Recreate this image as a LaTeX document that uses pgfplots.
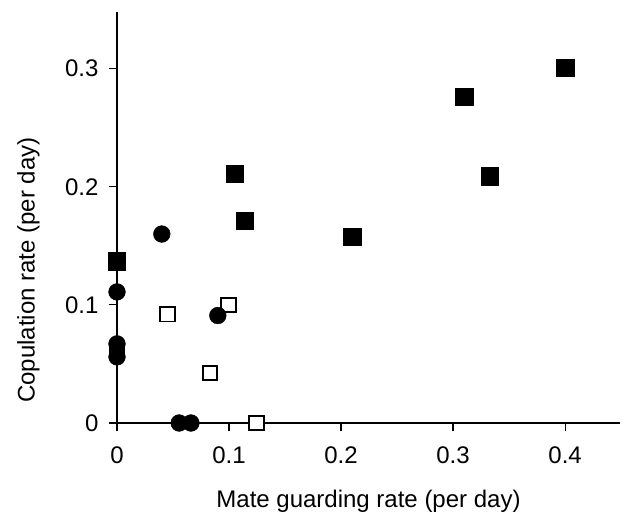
\documentclass[border=0pt]{standalone}
\usepackage{fontspec}
\setmainfont{Liberation Sans}
\usepackage{pgfplots}
\pgfplotsset{compat=1.18}
\begin{document}
\begin{tikzpicture}
\useasboundingbox (-117bp,-90bp) rectangle (506bp,423bp);
\begin{axis}[
  at={(0,0)}, anchor=south west,
  scale only axis, width=503bp, height=411bp,
  xmin=0, xmax=0.449, ymin=0, ymax=0.348,
  clip=false,
  axis x line=bottom, axis y line=left,
  axis line style={-, line width=1.2bp},
  every tick/.style={black, line width=1.2bp},
  tick align=outside, major tick length=8bp,
  xtick={0,0.1,0.2,0.3,0.4}, ytick={0,0.1,0.2,0.3},
  xticklabels={0,0.1,0.2,0.3,0.4}, yticklabels={0,0.1,0.2,0.3},
  tick label style={font=\fontsize{24bp}{28bp}\selectfont},
  xticklabel style={yshift=-12bp},
  yticklabel style={xshift=-7bp},
  label style={font=\fontsize{24bp}{28bp}\selectfont},
  xlabel={Mate guarding rate (per day)},
  ylabel={Copulation rate (per day)},
  xlabel style={at={(axis description cs:0.5,-0.206)}, anchor=base},
  ylabel style={at={(axis description cs:-0.164,0.372)}, anchor=base, rotate=0},
]
% open squares
\addplot[only marks, mark=square*, mark size=7.2bp, mark options={fill=white, draw=black, line width=1.9bp}]
  coordinates {(0,0.060) (0.045,0.092) (0.0995,0.100) (0.083,0.0425) (0.1245,0)};
% filled circles
\addplot[only marks, mark=*, mark size=8.4bp, mark options={fill=black, draw=black, line width=0.4bp}]
  coordinates {(0,0.111) (0,0.067) (0,0.056) (0.040,0.160) (0.090,0.091) (0.0555,0) (0.066,0)};
% filled squares
\addplot[only marks, mark=square*, mark size=8.6bp, mark options={fill=black, draw=black, line width=0.4bp}]
  coordinates {(0,0.137) (0.105,0.211) (0.114,0.171) (0.210,0.158) (0.310,0.276) (0.333,0.209) (0.400,0.301)};
\end{axis}
\end{tikzpicture}
\end{document}
